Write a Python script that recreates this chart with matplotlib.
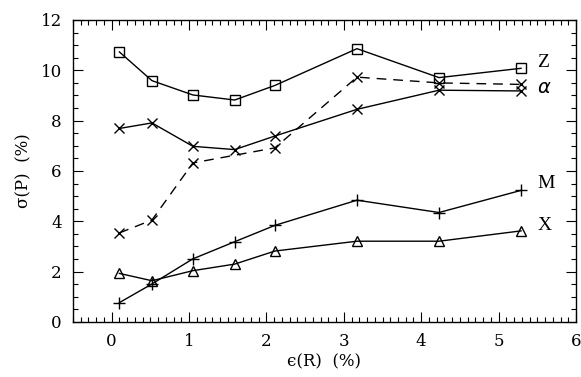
import matplotlib.pyplot as plt
from matplotlib.ticker import MultipleLocator

# x positions, eps(R) in %
eps_r = [0.10, 0.52, 1.05, 1.59, 2.11, 3.17, 4.23, 5.29]

# sigma(P) in % for each series
sig_z = [10.73, 9.59, 9.02, 8.82, 9.40, 10.86, 9.71, 10.08]
sig_alpha = [7.69, 7.91, 6.98, 6.85, 7.39, 8.45, 9.21, 9.18]
eps_alpha_dash = [0.10, 0.52, 1.05, 2.11, 3.17, 4.23, 5.29]
sig_alpha_dash = [3.54, 4.05, 6.32, 6.92, 9.73, 9.50, 9.44]
sig_m = [0.77, 1.51, 2.51, 3.19, 3.84, 4.84, 4.35, 5.23]
sig_x = [1.93, 1.64, 2.04, 2.30, 2.82, 3.21, 3.21, 3.62]

plt.rcParams['font.family'] = ['DejaVu Serif', 'DejaVu Sans']

fig = plt.figure(figsize=(5.81, 3.77), dpi=100)
ax = fig.add_axes([0.1256, 0.1459, 0.8658, 0.8011])

lw = 1.0
ax.plot(eps_r, sig_z, color='black', lw=lw, marker='s', ms=6.5,
        mfc='none', mec='black', mew=1.0)
ax.plot(eps_r, sig_alpha, color='black', lw=lw, marker='x', ms=7.5, mew=1.0)
ax.plot(eps_alpha_dash, sig_alpha_dash, color='black', lw=lw, ls=(0, (7, 5)),
        marker='x', ms=7.5, mew=1.0)
ax.plot(eps_r, sig_m, color='black', lw=lw, marker='+', ms=8, mew=1.0)
ax.plot(eps_r, sig_x, color='black', lw=lw, marker='^', ms=7,
        mfc='none', mec='black', mew=1.0)

# series labels on the right
lab_kw = dict(fontsize=14, family=['Liberation Serif', 'DejaVu Serif'],
              va='center', ha='left')
ax.text(5.5, 10.3, 'Z', **lab_kw)
ax.text(5.5, 9.3, r'$\alpha$', fontsize=14, va='center', ha='left')
ax.text(5.5, 5.52, 'M', **lab_kw)
ax.text(5.5, 3.85, 'X', **lab_kw)

ax.set_xlim(-0.5, 6)
ax.set_ylim(0, 12)
ax.xaxis.set_major_locator(MultipleLocator(1))
ax.xaxis.set_minor_locator(MultipleLocator(0.1))
ax.yaxis.set_major_locator(MultipleLocator(2))
ax.yaxis.set_minor_locator(MultipleLocator(0.5))
ax.tick_params(which='both', direction='in', top=True, right=True,
               labelsize=12, width=0.8, pad=8)
ax.tick_params(which='major', length=7)
ax.tick_params(which='minor', length=3.5)
for s in ax.spines.values():
    s.set_linewidth(1.0)

ax.set_xlabel('\u03f5(R)  (%)', fontsize=12, labelpad=2)
ax.set_ylabel('\u03c3(P)  (%)', fontsize=12, labelpad=6)

fig.savefig('out.png', dpi=100)
